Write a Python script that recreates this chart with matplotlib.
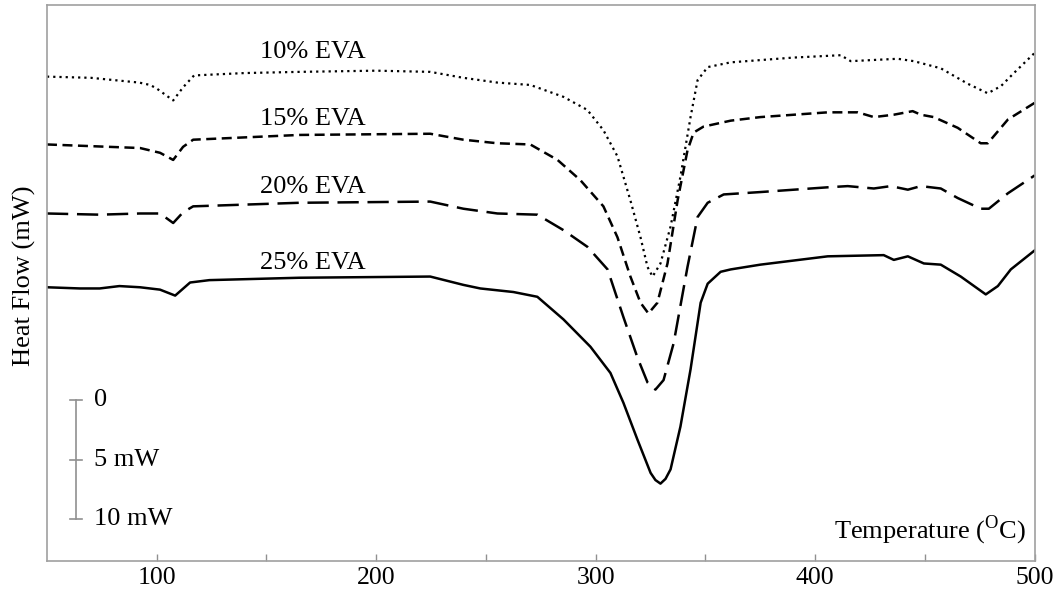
import matplotlib
matplotlib.use("Agg")
import matplotlib.pyplot as plt

# DSC heat flow traces (mW, offset for display) vs temperature (degC)
temp_10 = [50, 70, 92, 97, 100, 107.5, 112, 117, 140, 165, 200, 224.6, 239.7,
           255.2, 270.2, 285.3, 296.2, 303.5, 309.9, 315.8, 320.4, 323.6, 325.9,
           329.5, 334.1, 338.6, 343.2, 346.4, 351, 361.5, 390, 411.6, 416.2,
           426.7, 437.6, 444.9, 457.2, 469.5, 478.6, 484.6, 490.5, 500]
flow_10 = [40.7, 40.6, 40.2, 40.0, 39.7, 38.7, 39.8, 40.8, 41.0, 41.1, 41.2, 41.1,
           40.6, 40.2, 40.0, 39.0, 37.9, 36.2, 34.0, 30.3, 27.2, 24.7, 23.9, 25.0,
           28.1, 32.3, 37.3, 40.4, 41.5, 41.9, 42.3, 42.5, 42.0, 42.1, 42.2, 42.0,
           41.4, 40.1, 39.3, 39.9, 41.0, 42.7]

temp_15 = [50, 92.4, 101.5, 107.5, 112, 116.6, 165, 224.6, 239.7, 255.2, 270.2,
           282.6, 293, 303.5, 309.9, 315.8, 320.4, 324, 328.1, 332.7, 337.3, 341.8,
           344.6, 349.1, 361.5, 375, 405.7, 419.4, 426.7, 435.8, 444.4, 448.1, 454,
           464.9, 475.4, 478.6, 487.8, 500]
flow_15 = [35.0, 34.7, 34.3, 33.7, 34.8, 35.4, 35.8, 35.9, 35.4, 35.1, 35.0, 33.7,
           32.0, 29.8, 27.2, 23.9, 21.7, 20.8, 21.7, 25.0, 30.3, 34.5, 36.0, 36.5,
           37.0, 37.3, 37.7, 37.7, 37.3, 37.5, 37.8, 37.5, 37.3, 36.4, 35.1, 35.1,
           37.1, 38.5]

temp_20 = [50, 74, 92.4, 101.5, 107.5, 112, 116.6, 165, 224.6, 239.7, 255.2,
           273.4, 285.3, 296.2, 305.4, 312.6, 319, 323.6, 327.2, 330.9, 335.5,
           341.8, 346.4, 351, 358.3, 375, 405.7, 414.8, 426.7, 434.4, 442.2, 448.1,
           457.2, 464.9, 475.4, 479.1, 487.8, 500]
flow_20 = [29.2, 29.1, 29.2, 29.2, 28.4, 29.3, 29.8, 30.1, 30.2, 29.6, 29.2, 29.1,
           27.8, 26.4, 24.5, 20.5, 17.1, 15.0, 14.4, 15.2, 18.3, 24.7, 28.9, 30.1,
           30.8, 31.0, 31.4, 31.5, 31.3, 31.5, 31.2, 31.5, 31.3, 30.5, 29.6, 29.6,
           30.9, 32.4]

temp_25 = [50, 65, 74, 83, 92.4, 101.5, 108.4, 115.2, 124, 165, 224.6, 239.7,
           247.4, 262.5, 273.4, 285.3, 297.6, 306.7, 312.6, 319, 325, 327.2, 329.5,
           331.8, 334.1, 338.6, 343.2, 347.8, 351, 356.9, 361.5, 375, 405.7, 431.2,
           435.8, 442.2, 449.5, 457.2, 466.3, 477.7, 483.2, 489.1, 500]
flow_25 = [23.0, 22.9, 22.9, 23.1, 23.0, 22.8, 22.3, 23.4, 23.6, 23.8, 23.9, 23.2,
           22.9, 22.6, 22.2, 20.3, 18.0, 15.8, 13.3, 10.2, 7.4, 6.8, 6.5, 6.9, 7.7,
           11.3, 16.1, 21.7, 23.3, 24.3, 24.5, 24.9, 25.6, 25.7, 25.3, 25.6, 25.0,
           24.9, 23.9, 22.4, 23.1, 24.5, 26.1]

labels = ["10% EVA", "15% EVA", "20% EVA", "25% EVA"]
label_y = [42.8, 37.1, 31.4, 25.0]

plt.rcParams["font.family"] = ["Liberation Serif", "DejaVu Serif"]
plt.rcParams["mathtext.fontset"] = "custom"
plt.rcParams["mathtext.rm"] = "Liberation Serif"

fig = plt.figure(figsize=(10.58, 6.01), dpi=100)
ax = fig.add_axes([0.0444, 0.0666, 0.9336, 0.9251])

ax.plot(temp_10, flow_10, color="black", lw=1.6, ls=(0, (1, 1.8)))
ax.plot(temp_15, flow_15, color="black", lw=1.8, ls=(0, (4, 2.2)))
ax.plot(temp_20, flow_20, color="black", lw=1.8, ls=(0, (8.5, 3.5)))
ax.plot(temp_25, flow_25, color="black", lw=1.8, ls="-")

for text, y in zip(labels, label_y):
    ax.text(171.3, y, text, ha="center", va="center", fontsize=19)

# scale bar for heat flow
bar_x = 63.2
bar_vals = [13.53, 8.49, 3.53]
bar_text = ["0", "5 mW", "10 mW"]
ax.plot([bar_x, bar_x], [bar_vals[0], bar_vals[-1]], color="#909090", lw=1.2)
for v, t in zip(bar_vals, bar_text):
    ax.plot([bar_x - 2.6, bar_x + 2.6], [v, v], color="#909090", lw=1.2)
    ax.text(71.5, v, t, ha="left", va="center", fontsize=19)

ax.text(496, 2.6, "Temperature ($^{\\mathrm{O}}$C)", ha="right", va="center",
        fontsize=19)
fig.text(0.023, 0.541, "Heat Flow (mW)", rotation=90, ha="center", va="center",
         fontsize=19)

ax.set_xlim(50, 500)
ax.set_ylim(0, 46.72)
ax.set_xticks([100, 200, 300, 400, 500])
ax.set_xticks([150, 250, 350, 450], minor=True)
ax.set_yticks([])
ax.tick_params(axis="x", which="both", direction="in", length=5, width=1,
               color="#909090", labelsize=18.5, pad=4)
for s in ax.spines.values():
    s.set_color("#a0a0a0")
    s.set_linewidth(1.2)

fig.savefig("out.png", dpi=100)
